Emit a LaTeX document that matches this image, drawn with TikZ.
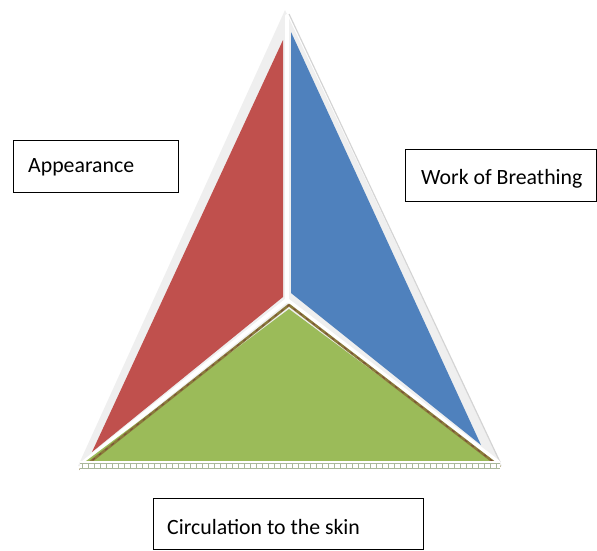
\documentclass[tikz,border=0pt]{standalone}
\usepackage{fontspec}
\setmainfont{Carlito}
\definecolor{redface}{HTML}{C0504D}
\definecolor{blueface}{HTML}{4F81BD}
\definecolor{greenface}{HTML}{9BBB59}
\definecolor{shell}{HTML}{EFEFEF}
\definecolor{shelledge}{HTML}{D4D4D4}
\definecolor{rim}{HTML}{8A7A3A}
\definecolor{rimdark}{HTML}{7A4A3A}
\definecolor{gridc}{HTML}{A9B79A}
\tikzset{
  labelbox/.style={draw=black, line width=1pt, fill=white},
  labeltext/.style={anchor=base west, inner sep=0pt, font=\fontsize{21.8}{26}\selectfont},
  gap/.style={draw=white, line width=4pt, line cap=round},
}
\begin{document}
\begin{tikzpicture}[x=1pt,y=-1pt]
\useasboundingbox (0,0) rectangle (597,550);
% outer shell
\coordinate (apex) at (285,10);
\coordinate (bl) at (78,466);
\coordinate (br) at (502,466);
\coordinate (ctr) at (287,300);
\fill[shell] (apex) -- (bl) -- (br) -- cycle;
\draw[shelledge, line width=1.2pt] (289,14) -- (500,462);
% faces
\fill[redface] (283,40) -- (283,297) -- (92,452) -- cycle;
\fill[blueface] (291,32) -- (291,293) -- (481,445) -- cycle;
% gaps
\draw[gap] (287,16) -- (ctr);
\draw[gap] (ctr) -- (84,462);
\draw[gap] (ctr) -- (498,462);
% green face
\fill[greenface] (289,309) -- (86,461) -- (494,461) -- cycle;
\draw[rim, line width=2.6pt, line join=round] (80,470) -- (289,305) -- (500,467);
\draw[rimdark, line width=0.9pt, dash pattern=on 3pt off 5pt] (80,470) -- (289,305) -- (500,467);
% base strip
\fill[white] (80,461) rectangle (500,471);
\draw[gridc, line width=0.6pt] (80,463.5) -- (500,463.5);
\draw[gridc, line width=0.6pt] (80,468.5) -- (500,468.5);
\foreach \i in {0,...,69} {
  \draw[gridc, line width=0.4pt] (82+6*\i,463.5) -- (82+6*\i,468.5);
}
% label boxes
\draw[labelbox] (13,140) rectangle (178,192);
\node[labeltext] (appearance) at (28,172) {Appearance};
\draw[labelbox] (405,149) rectangle (596.5,201);
\node[labeltext] (wob) at (421,184) {Work of Breathing};
\draw[labelbox] (153,498) rectangle (423,549);
\node[labeltext] (circ) at (167,534) {Circulation to the skin};
\end{tikzpicture}
\end{document}
